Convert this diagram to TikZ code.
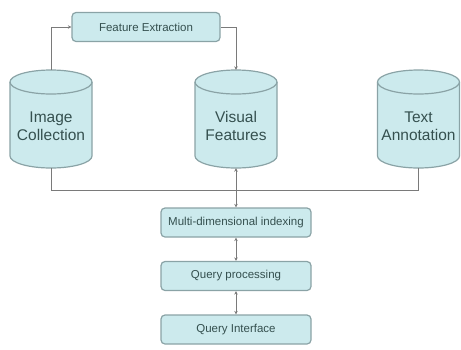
\documentclass[tikz,border=0pt]{standalone}
\usepackage{fontspec}
\setmainfont{Liberation Sans}
\usetikzlibrary{arrows.meta}
\definecolor{cfill}{HTML}{CCEAED}
\definecolor{cline}{HTML}{8AA3A6}
\definecolor{ctext}{HTML}{35504F}
\definecolor{conn}{HTML}{7A7A7A}
\tikzset{
  procbox/.style={draw=cline, line width=1.2pt, fill=cfill, rounded corners=4pt,
    minimum width=148pt, minimum height=29pt, inner sep=0pt, text=ctext,
    font=\fontsize{11.5}{13}\selectfont},
  cyllabel/.style={align=center, text=ctext, inner sep=0pt,
    font=\fontsize{15.5}{18}\selectfont},
  cylframe/.style={minimum width=82pt, minimum height=98pt, inner sep=0pt},
  cylbody/.style={draw=cline, line width=1.2pt, fill=cfill},
  link/.style={draw=conn, line width=1pt},
  tip/.style={-{Stealth[length=3.5pt,width=3.5pt]}},
  bitip/.style={{Stealth[length=3.5pt,width=3.5pt]}-{Stealth[length=3.5pt,width=3.5pt]}},
}
\newcommand{\cylat}[3]{% name, centre x, label
  \node[cylframe] (#1) at (#2,-119) {};
  \path[cylbody] (#2-41,-82) -- (#2-41,-156) arc (180:360:41 and 12) -- (#2+41,-82) arc (0:180:41 and 12) -- cycle;
  \draw[cline, line width=1.2pt] (#2-41,-82) arc (180:360:41 and 12);
  \node[cyllabel] (#1-t) at (#2,-126) {#3};
}
\begin{document}
\begin{tikzpicture}[x=1pt,y=1pt]
\useasboundingbox (0,0) rectangle (461,-349);
\cylat{ic}{51}{Image\\Collection}
\cylat{vf}{236}{Visual\\Features}
\cylat{ta}{418.5}{Text\\Annotation}

\node[procbox] (fe) at (146,-27) {Feature Extraction};
\node[procbox, minimum width=150pt] (md) at (236,-222.5) {Multi-dimensional indexing};
\node[procbox, minimum width=150pt] (qp) at (236,-276) {Query processing};
\node[procbox, minimum width=150pt] (qi) at (236,-329.5) {Query Interface};

\coordinate (feR) at (236,-27);
\coordinate (busL) at (51,-190);
\coordinate (busR) at (418.5,-190);

\draw[link, tip] (ic.north) |- (fe.west);
\draw[link, tip] (fe.east) -| (vf.north);
\draw[link] (ic.south) -- (busL) -- (busR) -- (ta.south);
\draw[link, bitip] (vf.south) -- (md.north);
\draw[link, bitip] (md.south) -- (qp.north);
\draw[link, bitip] (qp.south) -- (qi.north);
\end{tikzpicture}
\end{document}
